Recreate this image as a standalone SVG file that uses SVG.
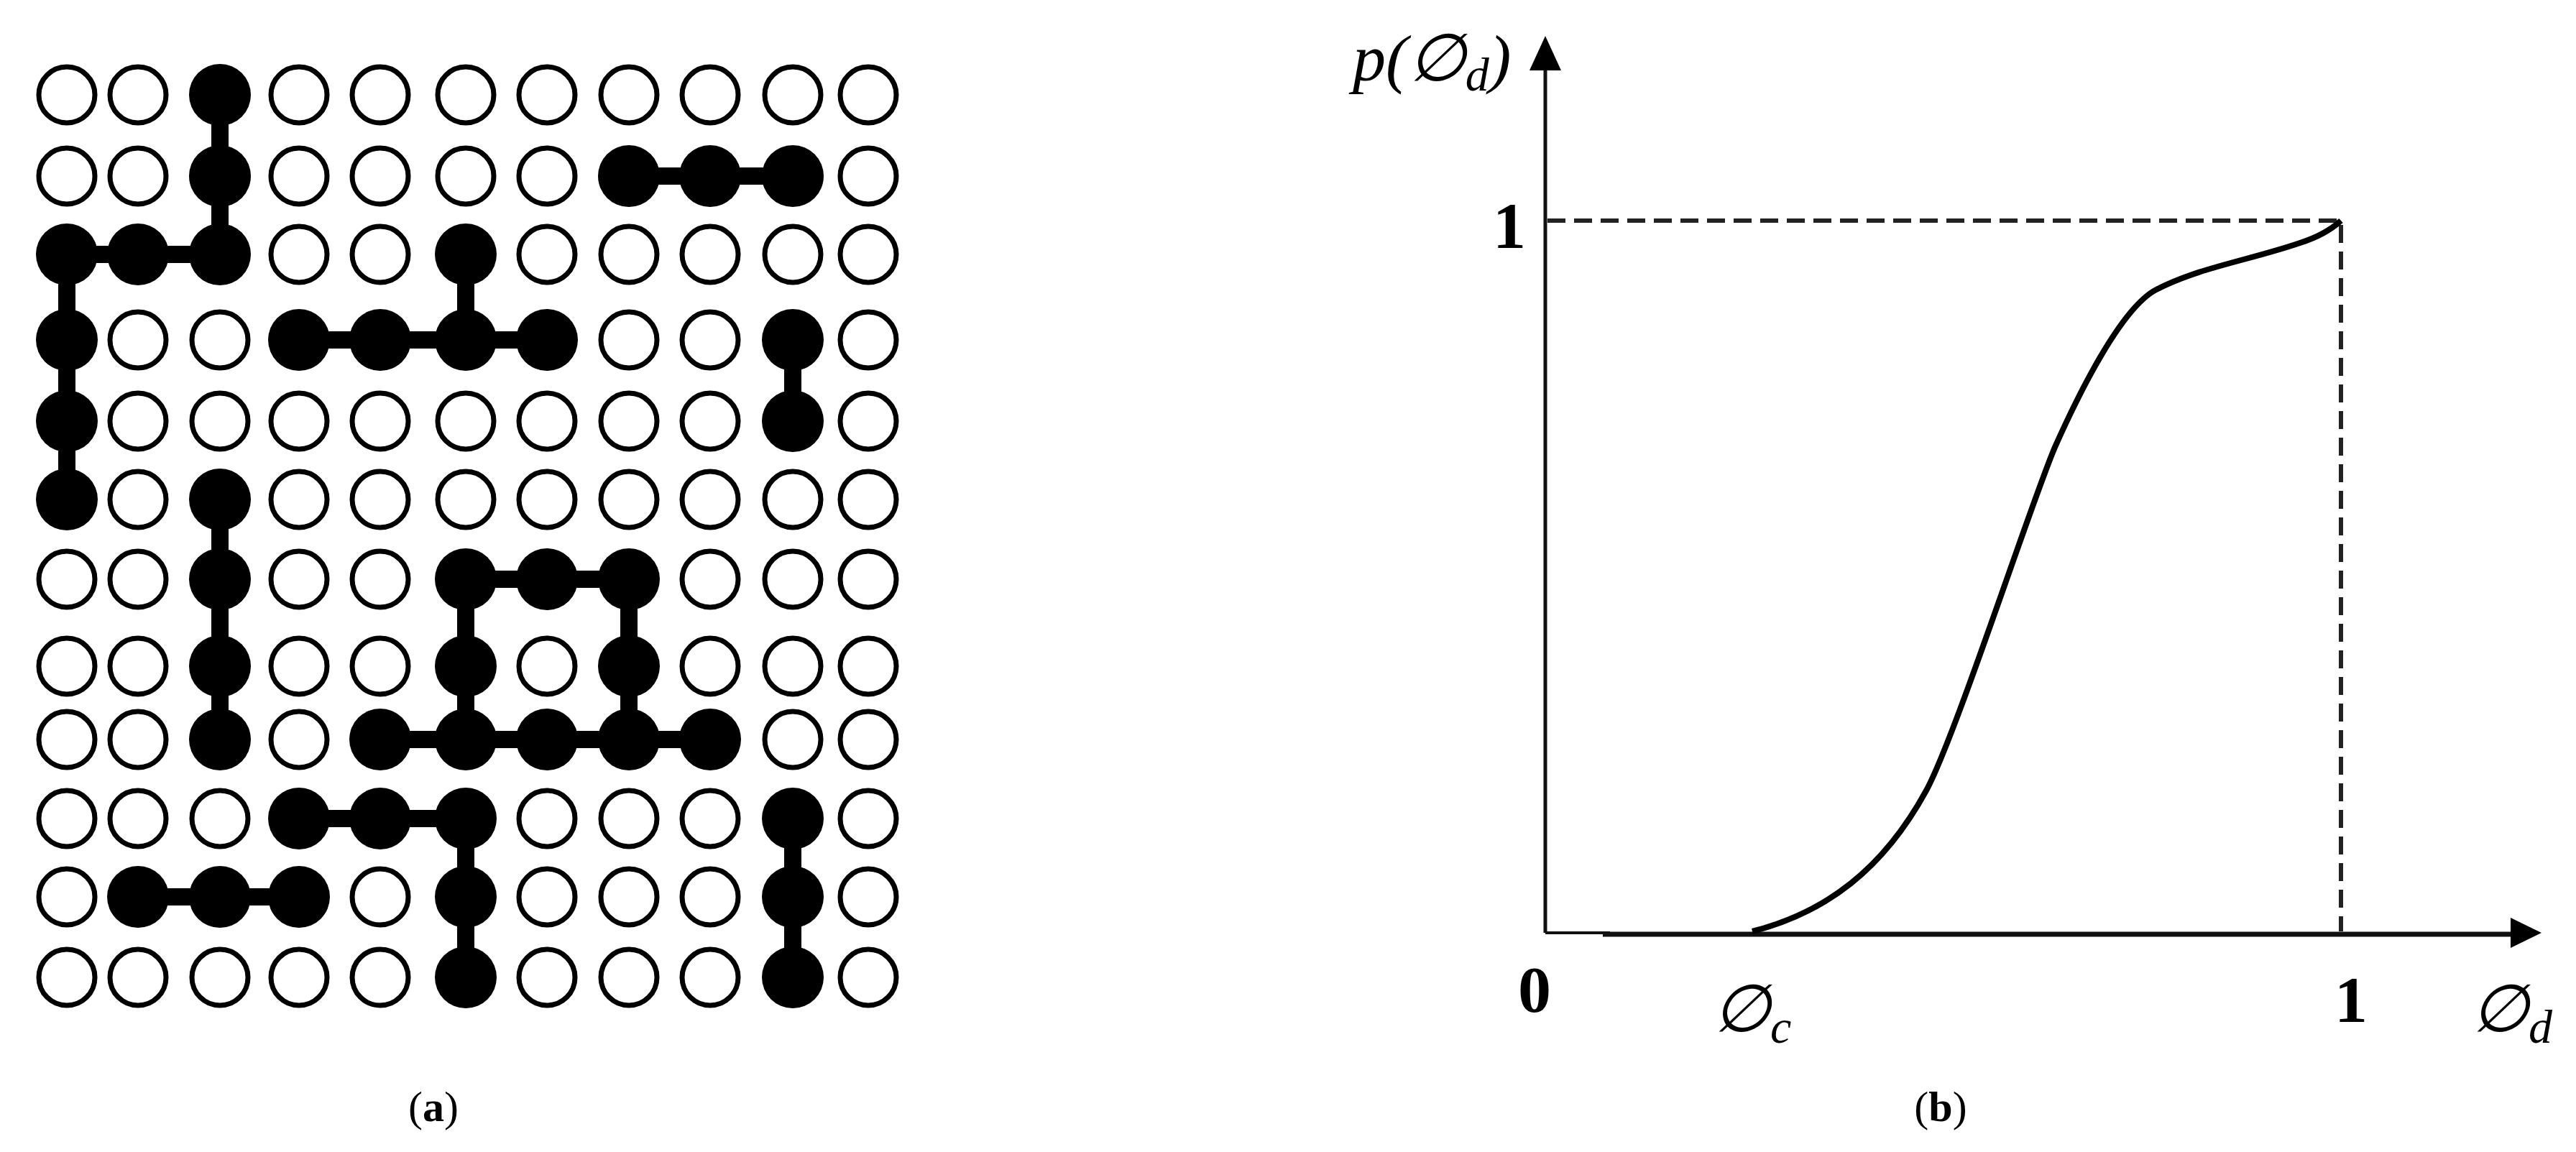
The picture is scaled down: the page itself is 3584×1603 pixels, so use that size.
<svg xmlns="http://www.w3.org/2000/svg" width="3584" height="1603" viewBox="0 0 3584 1603">
<style>
.o{fill:#fff;stroke:#000;stroke-width:7}
.f{fill:#000}
.b{stroke:#000;stroke-width:24}
.ax{stroke:#111;fill:none}
.dash{stroke:#222;stroke-width:6;stroke-dasharray:25 12;fill:none}
.m{font-family:"Liberation Serif","DejaVu Serif",serif;font-style:italic;fill:#000}
.n{font-family:"Liberation Serif",serif;font-weight:bold;fill:#000}
.cap{font-family:"Liberation Serif",serif;font-size:60px;fill:#000}
</style>
<defs>
<clipPath id="clipA"><rect x="0" y="0" width="1300" height="1405"/></clipPath>
</defs>
<g id="lattice" clip-path="url(#clipA)">
<g id="bonds">
<line class="b" x1="306" y1="132" x2="306" y2="354"/>
<line class="b" x1="93" y1="354" x2="306" y2="354"/>
<line class="b" x1="93" y1="354" x2="93" y2="695"/>
<line class="b" x1="875" y1="245" x2="1103" y2="245"/>
<line class="b" x1="648" y1="354" x2="648" y2="473"/>
<line class="b" x1="416" y1="473" x2="761" y2="473"/>
<line class="b" x1="1103" y1="473" x2="1103" y2="586"/>
<line class="b" x1="306" y1="695" x2="306" y2="1029"/>
<line class="b" x1="648" y1="806" x2="875" y2="806"/>
<line class="b" x1="648" y1="806" x2="648" y2="1029"/>
<line class="b" x1="875" y1="806" x2="875" y2="1029"/>
<line class="b" x1="529" y1="1029" x2="988" y2="1029"/>
<line class="b" x1="416" y1="1139" x2="648" y2="1139"/>
<line class="b" x1="648" y1="1139" x2="648" y2="1360"/>
<line class="b" x1="192" y1="1248" x2="416" y2="1248"/>
<line class="b" x1="1103" y1="1139" x2="1103" y2="1360"/>
</g>
<g id="sites">
<circle class="o" cx="93" cy="132" r="39"/><circle class="o" cx="192" cy="132" r="39"/><circle class="f" cx="306" cy="132" r="43"/><circle class="o" cx="416" cy="132" r="39"/><circle class="o" cx="529" cy="132" r="39"/><circle class="o" cx="648" cy="132" r="39"/><circle class="o" cx="761" cy="132" r="39"/><circle class="o" cx="875" cy="132" r="39"/><circle class="o" cx="988" cy="132" r="39"/><circle class="o" cx="1103" cy="132" r="39"/><circle class="o" cx="1208" cy="132" r="39"/>
<circle class="o" cx="93" cy="245" r="39"/><circle class="o" cx="192" cy="245" r="39"/><circle class="f" cx="306" cy="245" r="43"/><circle class="o" cx="416" cy="245" r="39"/><circle class="o" cx="529" cy="245" r="39"/><circle class="o" cx="648" cy="245" r="39"/><circle class="o" cx="761" cy="245" r="39"/><circle class="f" cx="875" cy="245" r="43"/><circle class="f" cx="988" cy="245" r="43"/><circle class="f" cx="1103" cy="245" r="43"/><circle class="o" cx="1208" cy="245" r="39"/>
<circle class="f" cx="93" cy="354" r="43"/><circle class="f" cx="192" cy="354" r="43"/><circle class="f" cx="306" cy="354" r="43"/><circle class="o" cx="416" cy="354" r="39"/><circle class="o" cx="529" cy="354" r="39"/><circle class="f" cx="648" cy="354" r="43"/><circle class="o" cx="761" cy="354" r="39"/><circle class="o" cx="875" cy="354" r="39"/><circle class="o" cx="988" cy="354" r="39"/><circle class="o" cx="1103" cy="354" r="39"/><circle class="o" cx="1208" cy="354" r="39"/>
<circle class="f" cx="93" cy="473" r="43"/><circle class="o" cx="192" cy="473" r="39"/><circle class="o" cx="306" cy="473" r="39"/><circle class="f" cx="416" cy="473" r="43"/><circle class="f" cx="529" cy="473" r="43"/><circle class="f" cx="648" cy="473" r="43"/><circle class="f" cx="761" cy="473" r="43"/><circle class="o" cx="875" cy="473" r="39"/><circle class="o" cx="988" cy="473" r="39"/><circle class="f" cx="1103" cy="473" r="43"/><circle class="o" cx="1208" cy="473" r="39"/>
<circle class="f" cx="93" cy="586" r="43"/><circle class="o" cx="192" cy="586" r="39"/><circle class="o" cx="306" cy="586" r="39"/><circle class="o" cx="416" cy="586" r="39"/><circle class="o" cx="529" cy="586" r="39"/><circle class="o" cx="648" cy="586" r="39"/><circle class="o" cx="761" cy="586" r="39"/><circle class="o" cx="875" cy="586" r="39"/><circle class="o" cx="988" cy="586" r="39"/><circle class="f" cx="1103" cy="586" r="43"/><circle class="o" cx="1208" cy="586" r="39"/>
<circle class="f" cx="93" cy="695" r="43"/><circle class="o" cx="192" cy="695" r="39"/><circle class="f" cx="306" cy="695" r="43"/><circle class="o" cx="416" cy="695" r="39"/><circle class="o" cx="529" cy="695" r="39"/><circle class="o" cx="648" cy="695" r="39"/><circle class="o" cx="761" cy="695" r="39"/><circle class="o" cx="875" cy="695" r="39"/><circle class="o" cx="988" cy="695" r="39"/><circle class="o" cx="1103" cy="695" r="39"/><circle class="o" cx="1208" cy="695" r="39"/>
<circle class="o" cx="93" cy="806" r="39"/><circle class="o" cx="192" cy="806" r="39"/><circle class="f" cx="306" cy="806" r="43"/><circle class="o" cx="416" cy="806" r="39"/><circle class="o" cx="529" cy="806" r="39"/><circle class="f" cx="648" cy="806" r="43"/><circle class="f" cx="761" cy="806" r="43"/><circle class="f" cx="875" cy="806" r="43"/><circle class="o" cx="988" cy="806" r="39"/><circle class="o" cx="1103" cy="806" r="39"/><circle class="o" cx="1208" cy="806" r="39"/>
<circle class="o" cx="93" cy="927" r="39"/><circle class="o" cx="192" cy="927" r="39"/><circle class="f" cx="306" cy="927" r="43"/><circle class="o" cx="416" cy="927" r="39"/><circle class="o" cx="529" cy="927" r="39"/><circle class="f" cx="648" cy="927" r="43"/><circle class="o" cx="761" cy="927" r="39"/><circle class="f" cx="875" cy="927" r="43"/><circle class="o" cx="988" cy="927" r="39"/><circle class="o" cx="1103" cy="927" r="39"/><circle class="o" cx="1208" cy="927" r="39"/>
<circle class="o" cx="93" cy="1029" r="39"/><circle class="o" cx="192" cy="1029" r="39"/><circle class="f" cx="306" cy="1029" r="43"/><circle class="o" cx="416" cy="1029" r="39"/><circle class="f" cx="529" cy="1029" r="43"/><circle class="f" cx="648" cy="1029" r="43"/><circle class="f" cx="761" cy="1029" r="43"/><circle class="f" cx="875" cy="1029" r="43"/><circle class="f" cx="988" cy="1029" r="43"/><circle class="o" cx="1103" cy="1029" r="39"/><circle class="o" cx="1208" cy="1029" r="39"/>
<circle class="o" cx="93" cy="1139" r="39"/><circle class="o" cx="192" cy="1139" r="39"/><circle class="o" cx="306" cy="1139" r="39"/><circle class="f" cx="416" cy="1139" r="43"/><circle class="f" cx="529" cy="1139" r="43"/><circle class="f" cx="648" cy="1139" r="43"/><circle class="o" cx="761" cy="1139" r="39"/><circle class="o" cx="875" cy="1139" r="39"/><circle class="o" cx="988" cy="1139" r="39"/><circle class="f" cx="1103" cy="1139" r="43"/><circle class="o" cx="1208" cy="1139" r="39"/>
<circle class="o" cx="93" cy="1248" r="39"/><circle class="f" cx="192" cy="1248" r="43"/><circle class="f" cx="306" cy="1248" r="43"/><circle class="f" cx="416" cy="1248" r="43"/><circle class="o" cx="529" cy="1248" r="39"/><circle class="f" cx="648" cy="1248" r="43"/><circle class="o" cx="761" cy="1248" r="39"/><circle class="o" cx="875" cy="1248" r="39"/><circle class="o" cx="988" cy="1248" r="39"/><circle class="f" cx="1103" cy="1248" r="43"/><circle class="o" cx="1208" cy="1248" r="39"/>
<circle class="o" cx="93" cy="1360" r="39"/><circle class="o" cx="192" cy="1360" r="39"/><circle class="o" cx="306" cy="1360" r="39"/><circle class="o" cx="416" cy="1360" r="39"/><circle class="o" cx="529" cy="1360" r="39"/><circle class="f" cx="648" cy="1360" r="43"/><circle class="o" cx="761" cy="1360" r="39"/><circle class="o" cx="875" cy="1360" r="39"/><circle class="o" cx="988" cy="1360" r="39"/><circle class="f" cx="1103" cy="1360" r="43"/><circle class="o" cx="1208" cy="1360" r="39"/>
</g>
</g>
<text class="cap" x="603" y="1560" text-anchor="middle">(<tspan font-weight="bold">a</tspan>)</text>

<g id="chart">
<line class="ax" x1="2150" y1="1298" x2="2150" y2="95" stroke-width="5"/>
<path d="M2150,50 L2172,98 L2128,98 Z" fill="#000"/>
<path d="M2150,1298 H2240" class="ax" stroke-width="4"/>
<line class="ax" x1="2230" y1="1300" x2="3495" y2="1300" stroke-width="7"/>
<path d="M3536,1298 L3493,1277 L3493,1319 Z" fill="#000"/>
<path class="dash" d="M2153,307 H3257 V1296"/>
<path d="M2438,1296 C2540,1270 2620,1210 2680,1100 C2720,1027 2830,687 2860,620 C2890,553 2950,429 3000,403 C3060,372 3130,362 3200,338 C3225,330 3245,318 3257,307" fill="none" stroke="#000" stroke-width="8"/>
<text class="m" x="1882" y="112" font-size="92">p(∅<tspan font-size="66" dy="14">d</tspan><tspan dy="-14">)</tspan></text>
<text class="n" x="2077" y="345" font-size="92">1</text>
<text class="n" x="2112" y="1408" font-size="92">0</text>
<text class="m" x="2383" y="1435" font-size="92">∅<tspan font-size="66" dy="16">c</tspan></text>
<text class="n" x="3248" y="1422" font-size="92">1</text>
<text class="m" x="3438" y="1435" font-size="92">∅<tspan font-size="66" dy="16">d</tspan></text>
</g>
<text class="cap" x="2700" y="1560" text-anchor="middle">(<tspan font-weight="bold">b</tspan>)</text>
</svg>
